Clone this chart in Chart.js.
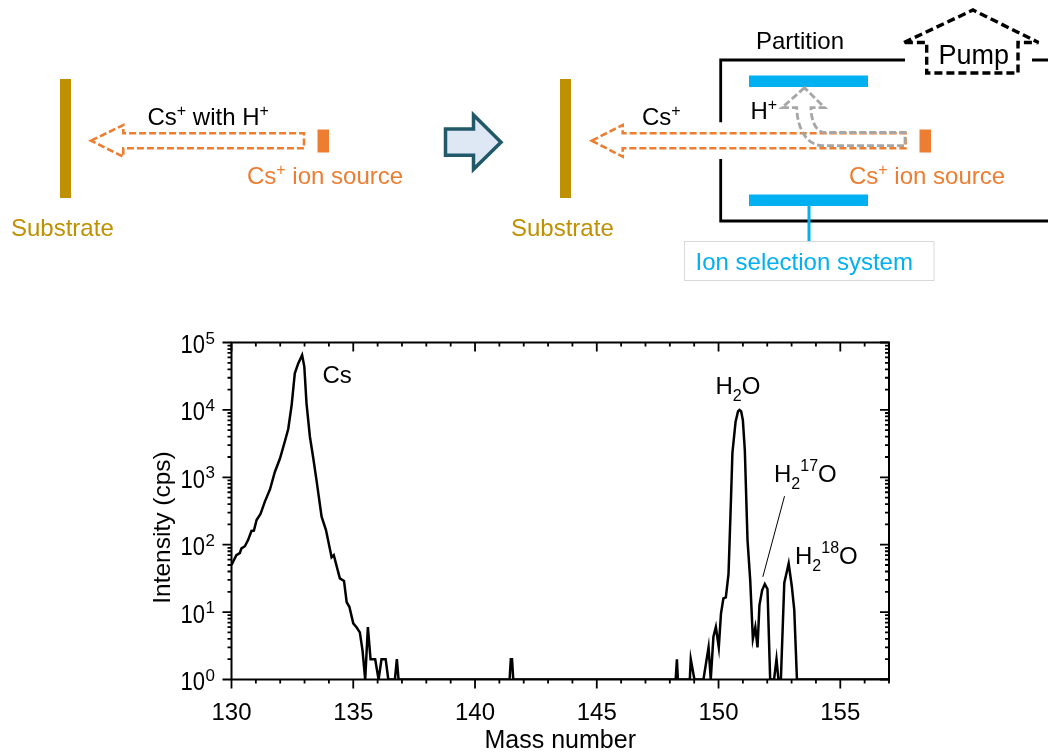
<!DOCTYPE html>
<html>
<head>
<meta charset="utf-8">
<title>Mass spectrum</title>
<script src="https://cdn.jsdelivr.net/npm/chart.js@4/dist/chart.umd.min.js"></script>
<style>
    html, body { margin: 0; padding: 0; background: #fff; }
    #page { position: relative; width: 1048px; height: 756px; overflow: hidden; }
    #schema { position: absolute; left: 0; top: 0; }
    #spectrum { position: absolute; left: 0; top: 0; }
    #schema text { font-family: "Liberation Sans", Arial, sans-serif; font-size: 24px; }
    #schema .sup { font-size: 16px; }
    #schema .pump { font-size: 27px; }
    .orangeDash { fill: none; stroke: #ED7D31; stroke-width: 2.6; stroke-dasharray: 7 3; }
</style>
</head>
<body>
<div id="page">
    <canvas id="spectrum" width="1048" height="756"></canvas>

    <!-- esquema de arriba, no son datos -->
    <svg id="schema" width="1048" height="300" xmlns="http://www.w3.org/2000/svg">
        <!-- izquierda -->
        <rect x="60" y="79" width="11" height="119" fill="#BF9000"/>
        <text x="11" y="236" fill="#BF9000">Substrate</text>
        <path class="orangeDash" d="M91 140.7 L123.3 125 L123.3 133.3 L304 133.3 L304 148.3 L123.3 148.3 L123.3 156.7 Z"/>
        <rect x="317.5" y="129.5" width="11.5" height="23" fill="#ED7D31"/>
        <text x="147.5" y="125" fill="#000">Cs<tspan class="sup" dy="-9">+</tspan><tspan dy="9"> with H</tspan><tspan class="sup" dy="-9">+</tspan></text>
        <text x="247" y="184" fill="#ED7D31">Cs<tspan class="sup" dy="-9">+</tspan><tspan dy="9"> ion source</tspan></text>

        <!-- flecha central -->
        <path d="M445.5 129 L473.5 129 L473.5 115 L501 142.3 L473.5 169.3 L473.5 155.3 L445.5 155.3 Z" fill="#DEE8F4" stroke="#215968" stroke-width="3.5"/>

        <!-- derecha -->
        <rect x="560" y="79" width="11" height="119" fill="#BF9000"/>
        <text x="511" y="236" fill="#BF9000">Substrate</text>
        <path d="M720.7 122.3 L720.7 60 L905 60 M1032 60 L1048 60 M720.7 159 L720.7 221 L1048 221" fill="none" stroke="#000" stroke-width="2.8"/>
        <rect x="749" y="75.5" width="119" height="11.5" fill="#00B0F0"/>
        <rect x="749" y="194.5" width="119" height="11.5" fill="#00B0F0"/>
        <path d="M809 206 L809 241" stroke="#00B0F0" stroke-width="3" fill="none"/>
        <rect x="684.5" y="241.5" width="249.5" height="39" fill="#fff" stroke="#D9D9D9" stroke-width="1"/>
        <text x="695.5" y="269.5" fill="#00B0F0">Ion selection system</text>
        <text x="756" y="48.5" fill="#000">Partition</text>
        <path d="M904 42.5 L973 10 L1038.5 42.5 L1018 42.5 L1018 73 L926.7 73 L926.7 42.5 Z" fill="none" stroke="#000" stroke-width="3.4" stroke-dasharray="8 4"/>
        <text class="pump" x="938.5" y="63.5" fill="#000">Pump</text>
        <path class="orangeDash" d="M591.7 140.7 L622.7 125 L622.7 133.3 L905.5 133.3 L905.5 148.3 L622.7 148.3 L622.7 156.7 Z"/>
        <path d="M804.5 87.7 L782 107.7 L796.8 107.7 C797 127 806 145.7 823 145.7 L905 145.7 L905 132.5 L824.7 132.5 C815 132 811 119 811 107.7 L824.7 107.7 Z" fill="none" stroke="#A6A6A6" stroke-width="2.8" stroke-dasharray="7 3"/>
        <rect x="919.5" y="129.5" width="11.5" height="23" fill="#ED7D31"/>
        <text x="750.5" y="118.5" fill="#000">H<tspan class="sup" dy="-9">+</tspan></text>
        <text x="642" y="125" fill="#000">Cs<tspan class="sup" dy="-9">+</tspan></text>
        <text x="849" y="184" fill="#ED7D31">Cs<tspan class="sup" dy="-9">+</tspan><tspan dy="9"> ion source</tspan></text>
    </svg>
</div>

<script>
const massNumbers = [
    130, 130.2, 130.34, 130.41, 130.55, 130.68, 130.82, 130.92, 131.03, 131.19, 131.37, 131.58, 131.78, 131.99,
    132.19, 132.33, 132.47, 132.6, 132.74, 132.9, 132.99, 133.08, 133.22, 133.36, 133.49, 133.7, 133.88, 134.11,
    134.2, 134.45, 134.62, 134.73, 134.84, 135, 135.14, 135.27, 135.38, 135.49, 135.6, 135.71, 135.9, 136.04,
    136.16, 136.33, 136.44, 136.71, 136.79, 136.86,
    141.42, 141.47, 141.52, 141.57,
    148.24, 148.29, 148.33, 148.82, 148.86, 149.01,
    149.38, 149.59, 149.68, 149.79, 149.89, 150.01, 150.1, 150.2, 150.3, 150.41, 150.51, 150.57, 150.7, 150.8,
    150.86, 150.93, 151.0, 151.08, 151.19, 151.3, 151.41, 151.51, 151.6, 151.68, 151.79, 151.9, 152.01, 152.12, 152.28, 152.38,
    152.46, 152.56, 152.7, 152.88, 153.01, 153.11, 153.22, 157
];
const intensity = [
    50, 70, 75, 88, 95, 117, 160, 162, 232, 285, 436, 660, 1200, 1900,
    3400, 5200, 11800, 35000, 49000, 65000, 44000, 12500, 4000, 1900, 910, 260, 165, 65,
    70, 31.6, 29, 14, 12, 6.8, 5.9, 5, 2.7, 1, 6, 2, 2, 1,
    2, 2, 1, 1, 2, 1,
    1, 2, 2, 1,
    1, 2, 1, 1, 2, 1,
    1, 3, 1, 4.3, 6, 3, 9.5, 16, 16.5, 37, 460, 2300, 6700, 9500,
    10000, 9500, 7000, 2500, 117, 30, 4, 6, 3, 12.7, 21, 26, 22, 1, 1, 2,
    1, 1, 27, 52.5, 24, 10.7, 1, 1
];

// linea que apunta al pico H2 17O
const leaderMass = [152.71, 151.82];
const leaderIntensity = [525, 33.4];

const xRange = [130, 157];
const yRange = [1, 100000];
const xMajorTicks = [130, 135, 140, 145, 150, 155];
const xMinorTicks = [131, 132, 133, 134, 136, 137, 138, 139, 141, 142, 143, 144, 146, 147, 148, 149, 151, 152, 153, 154, 156, 157];
const yExponents = [0, 1, 2, 3, 4, 5];
const yMinorFactors = [2, 3, 4, 5, 6, 7, 8, 9];
const yTitle = 'Intensity (cps)';

const FONT = '"Liberation Sans", Arial, sans-serif';

function drawRuns(ctx, x, y, runs) {
    runs.forEach(function(run) {
        ctx.font = run.size + 'px ' + FONT;
        ctx.fillText(run.text, x, y + (run.shift || 0));
        x += ctx.measureText(run.text).width;
    });
}

const frameAndLabels = {
    id: 'frameAndLabels',
    afterDraw: function(chart) {
        const ctx = chart.ctx;
        const a = chart.chartArea;
        const xs = chart.scales.x;
        const ys = chart.scales.y;

        ctx.save();
        ctx.strokeStyle = '#000';
        ctx.fillStyle = '#000';
        ctx.lineWidth = 2;
        ctx.strokeRect(a.left, a.top, a.right - a.left, a.bottom - a.top);

        // marcas del eje x: abajo hacia afuera, arriba hacia adentro
        function xTick(value, len) {
            const px = xs.getPixelForValue(value);
            ctx.beginPath();
            ctx.moveTo(px, a.bottom); ctx.lineTo(px, a.bottom + len);
            ctx.moveTo(px, a.top); ctx.lineTo(px, a.top + len);
            ctx.stroke();
        }
        ctx.lineWidth = 1.8;
        xMajorTicks.forEach(v => xTick(v, 9));
        xMinorTicks.forEach(v => xTick(v, 4));

        // marcas del eje y: izquierda hacia afuera, derecha hacia adentro
        function yTick(value, len) {
            const py = ys.getPixelForValue(value);
            ctx.beginPath();
            ctx.moveTo(a.left, py); ctx.lineTo(a.left - len, py);
            ctx.moveTo(a.right, py); ctx.lineTo(a.right - len, py);
            ctx.stroke();
        }
        yExponents.forEach(function(e) {
            yTick(Math.pow(10, e), 9);
            if (e < 5) yMinorFactors.forEach(f => yTick(f * Math.pow(10, e), 4));
        });

        // etiquetas del eje y con exponente, un poco angostas como en la figura
        ctx.textBaseline = 'alphabetic';
        ctx.textAlign = 'left';
        yExponents.forEach(function(e) {
            const py = ys.getPixelForValue(Math.pow(10, e));
            ctx.save();
            ctx.translate(180.5, py + 10.5);
            ctx.scale(0.88, 1);
            ctx.font = '25px ' + FONT;
            ctx.fillText('10', 0, 0);
            ctx.restore();
            ctx.font = '17px ' + FONT;
            ctx.fillText(String(e), 205.5, py + 1);
        });

        // titulo del eje y, va mas abajo que el centro del area
        ctx.save();
        ctx.translate(170, 527.5);
        ctx.rotate(-Math.PI / 2);
        ctx.textAlign = 'center';
        ctx.font = '24.5px ' + FONT;
        ctx.fillText(yTitle, 0, 0);
        ctx.restore();

        // nombres de los picos
        ctx.textAlign = 'left';
        drawRuns(ctx, 322.5, 383, [{ text: 'Cs', size: 24 }]);
        drawRuns(ctx, 715.5, 394, [
            { text: 'H', size: 24 }, { text: '2', size: 16, shift: 7 }, { text: 'O', size: 24 }
        ]);
        drawRuns(ctx, 774, 482, [
            { text: 'H', size: 24 }, { text: '2', size: 16, shift: 7 },
            { text: '17', size: 16, shift: -11 }, { text: 'O', size: 24 }
        ]);
        drawRuns(ctx, 795, 564, [
            { text: 'H', size: 24 }, { text: '2', size: 16, shift: 7 },
            { text: '18', size: 16, shift: -11 }, { text: 'O', size: 24 }
        ]);
        ctx.restore();
    }
};

new Chart(document.getElementById('spectrum'), {
    type: 'line',
    data: {
        datasets: [{
            label: 'Intensity',
            data: massNumbers.map((m, i) => ({ x: m, y: intensity[i] })),
            borderColor: '#000',
            borderWidth: 2.5,
            pointRadius: 0,
            tension: 0
        }, {
            label: 'H2 17O leader',
            data: leaderMass.map((m, i) => ({ x: m, y: leaderIntensity[i] })),
            borderColor: '#000',
            borderWidth: 1,
            pointRadius: 0,
            tension: 0
        }]
    },
    options: {
        responsive: false,
        animation: false,
        layout: {
            padding: { left: 140, top: 342.5, right: 159, bottom: 0 }
        },
        plugins: {
            legend: { display: false },
            tooltip: { enabled: false }
        },
        scales: {
            x: {
                type: 'linear',
                min: xRange[0],
                max: xRange[1],
                grid: { display: false },
                border: { display: false },
                ticks: {
                    stepSize: 5,
                    includeBounds: false,
                    maxRotation: 0,
                    padding: 11,
                    color: '#000',
                    font: { family: FONT, size: 24 }
                },
                title: {
                    display: true,
                    text: 'Mass number',
                    color: '#000',
                    font: { family: FONT, size: 25 },
                    padding: { top: 0, bottom: 0 }
                },
                afterFit: function(scale) { scale.height = 76.5; }
            },
            y: {
                type: 'logarithmic',
                min: yRange[0],
                max: yRange[1],
                grid: { display: false },
                border: { display: false },
                ticks: { display: false },
                afterFit: function(scale) { scale.width = 91.5; }
            }
        }
    },
    plugins: [frameAndLabels]
});
</script>
</body>
</html>
